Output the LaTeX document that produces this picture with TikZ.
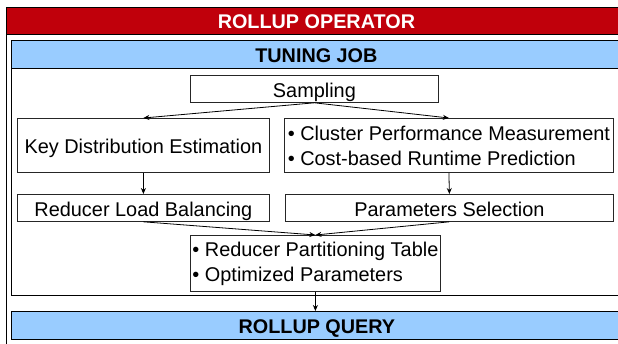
\documentclass[tikz,border=0pt]{standalone}
\usepackage{fontspec}
\setmainfont{Liberation Sans}
\usetikzlibrary{positioning,arrows.meta}
\definecolor{oprred}{RGB}{192,0,11}
\definecolor{jobblue}{RGB}{153,204,255}
\tikzset{
  box/.style={draw=black!85, fill=white, line width=0.8pt, inner sep=0pt,
    font=\fontsize{19.9}{25}\selectfont, text height=17pt, text depth=0pt},
  listbox/.style={draw=black!85, fill=white, line width=0.8pt, inner sep=0pt,
    font=\fontsize{19.9}{25}\selectfont, align=left},
  band/.style={draw=black, line width=0.8pt, inner sep=0pt,
    font=\fontsize{19.8}{24}\selectfont\bfseries, text height=16pt, text depth=0pt},
  flow/.style={-{Stealth[length=6pt,width=5pt]}, line width=0.8pt},
}
\begin{document}
\begin{tikzpicture}[x=1pt, y=-1pt]
\useasboundingbox (0,0) rectangle (618,343);
\clip (0,0) rectangle (618,343);
% Operator-Rahmen
\draw[line width=0.8pt] (6,7) rectangle (626,360);
\node[band, fill=oprred, text=white, minimum width=620pt, minimum height=27pt,
  anchor=north west] (op) at (6,7) {ROLLUP OPERATOR};
% Tuning-Job
\draw[line width=0.8pt] (11,40) rectangle (621,295);
\node[band, fill=jobblue, minimum width=610pt, minimum height=28pt,
  anchor=north west] (job) at (11,40) {TUNING JOB};
% Schritte
\node[box, minimum width=248pt, minimum height=27pt, anchor=north west] (samp) at (190,75) {Sampling};
\node[box, minimum width=252pt, minimum height=54pt, anchor=north west] (kde) at (17,118) {Key Distribution Estimation};
\node[listbox, minimum width=329pt, minimum height=54pt, anchor=north west] (clu) at (284,118)
  {\textbullet{} Cluster Performance Measurement\\\textbullet{} Cost-based Runtime Prediction};
\node[box, minimum width=252pt, minimum height=27pt, anchor=north west] (rlb) at (17,194) {Reducer Load Balancing};
\node[box, minimum width=328pt, minimum height=27pt, anchor=north west] (ps) at (285,194) {Parameters Selection};
\node[listbox, minimum width=250pt, minimum height=56pt, anchor=north west] (out) at (190,235)
  {\textbullet{} Reducer Partitioning Table\\\textbullet{} Optimized Parameters};
% Query
\node[band, fill=jobblue, minimum width=611pt, minimum height=28pt,
  anchor=north west] (query) at (11,311) {ROLLUP QUERY};
% Pfeile
\draw[flow] (samp.south) -- (kde.north);
\draw[flow] (samp.south) -- (clu.north);
\draw[flow] (kde.south) -- (rlb.north);
\draw[flow] (clu.south) -- (ps.north);
\draw[flow] (rlb.south) -- (out.north);
\draw[flow] (ps.south) -- (out.north);
\draw[flow] (out.south) -- (out.south |- query.north);
\end{tikzpicture}
\end{document}
